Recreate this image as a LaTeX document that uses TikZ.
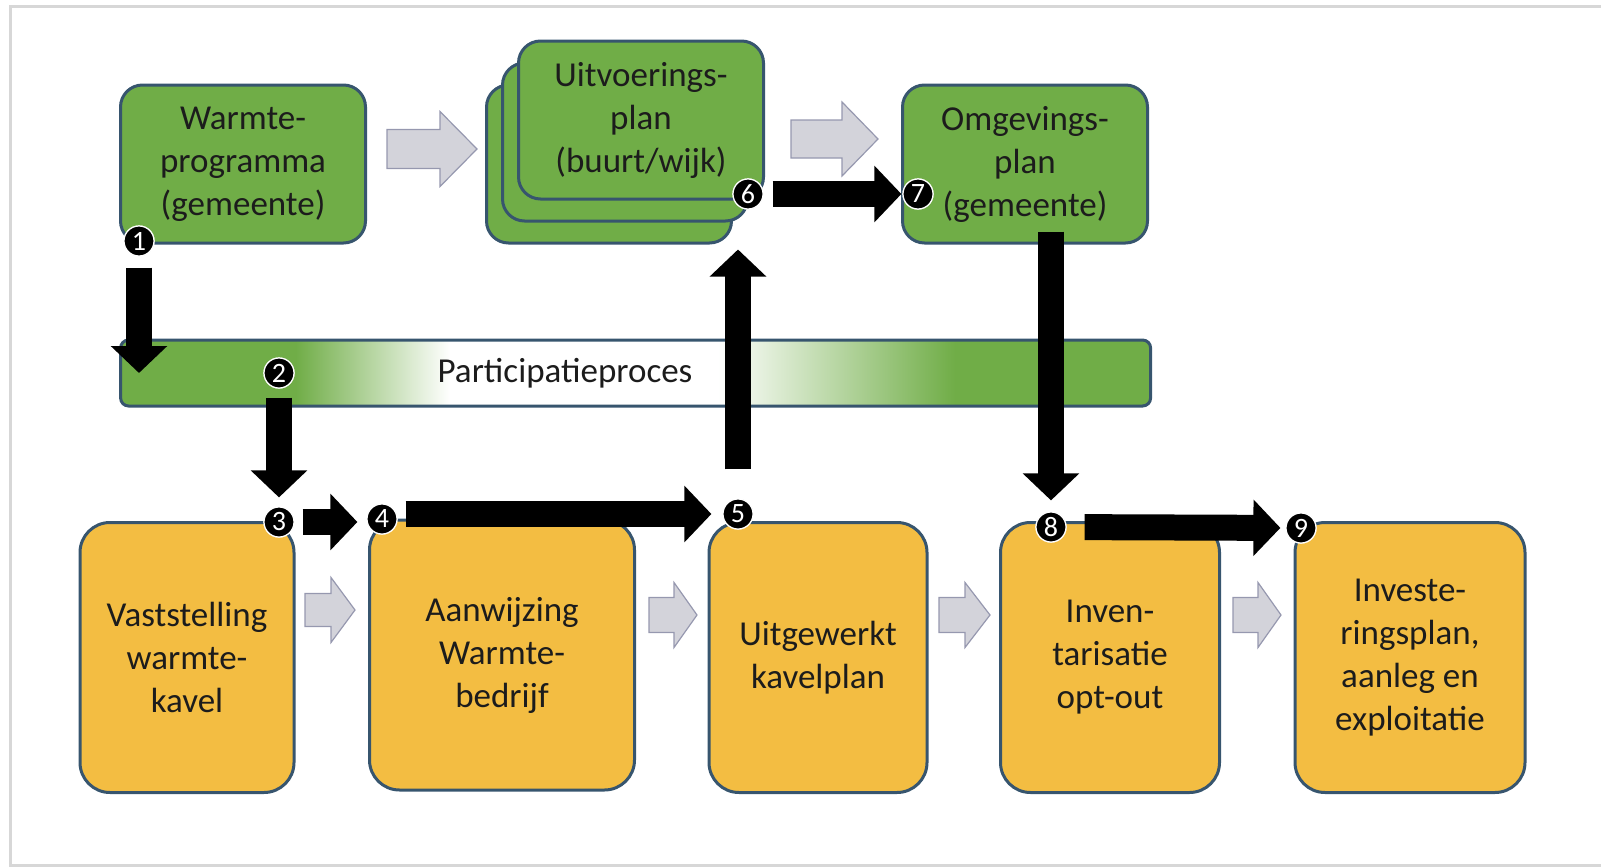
\documentclass[tikz,border=0pt]{standalone}
\usepackage{fontspec}
\setmainfont{Carlito}
\usetikzlibrary{arrows.meta,calc}
\definecolor{boxgreen}{RGB}{112,173,71}
\definecolor{boxyellow}{RGB}{243,189,66}
\definecolor{edgeblue}{RGB}{55,85,110}
\definecolor{arrgray}{RGB}{211,211,218}
\definecolor{arredge}{RGB}{150,152,175}
\definecolor{txt}{RGB}{28,28,28}
\definecolor{framegray}{RGB}{215,215,215}
\pgfdeclarehorizontalshading{barshade}{100bp}{color(0bp)=(boxgreen); color(33.5bp)=(boxgreen); color(41bp)=(white); color(54bp)=(white); color(65.5bp)=(boxgreen); color(100bp)=(boxgreen)}
\newcommand\grayarrow[6]{%
  \draw[garr] (#1,#4-#5) -- (#2,#4-#5) -- (#2,#4-#6) -- (#3,#4) -- (#2,#4+#6) -- (#2,#4+#5) -- (#1,#4+#5) -- cycle;}
\begin{document}
\begin{tikzpicture}[x=0.5pt,y=-0.5pt,
  boxfont/.style={font=\fontsize{17.5}{21.5}\selectfont},
  gbox/.style={draw=edgeblue, line width=1.5pt, fill=boxgreen, rounded corners=11pt,
    minimum width=122.5pt, minimum height=79pt, align=center, text=txt, boxfont, inner sep=0pt},
  ybox/.style={draw=edgeblue, line width=1.5pt, fill=boxyellow, rounded corners=15pt,
    minimum height=135pt, align=center, text=txt, boxfont, inner sep=0pt},
  num/.style={circle, fill=black, draw=white, line width=0.6pt, minimum size=15pt,
    inner sep=0pt, text=white, font=\fontsize{14}{14}\selectfont},
  blk/.style={draw=black, line width=13pt, -{Triangle[width=27.5pt,length=13.5pt]}},
  garr/.style={fill=arrgray, draw=arredge, line width=0.6pt, line join=miter}
]
\useasboundingbox (0,0) rectangle (1601,867);
% frame
\draw[framegray, line width=1.5pt] (1601,6) -- (10,6) -- (10,865) -- (1601,865);

% gray process arrows
\grayarrow{387}{440}{477}{149}{19.5}{37.5}
\grayarrow{791}{842}{878}{139}{19}{37}
\grayarrow{305}{331}{355}{610}{16.5}{32.5}
\grayarrow{649}{674}{697}{615}{17.5}{32.5}
\grayarrow{939}{965}{990}{615}{17.5}{32.5}
\grayarrow{1233}{1258}{1281}{615}{17.5}{32.5}

% participation bar
\node[draw=edgeblue, line width=1.5pt, shade, shading=barshade, rounded corners=4pt,
  minimum width=515pt, minimum height=33pt, inner sep=0pt] (bar) at (635.6,373) {};
\node[text=txt, boxfont, inner sep=0pt] (bartext) at (565,373) {Participatieproces};

% green boxes
\node[gbox] (W) at (243,164) {Warmte-\\programma\\(gemeente)};
\node[gbox] (U3) at (609,164) {};
\node[gbox] (U2) at (625,142) {};
\node[gbox] (U1) at (641,120) {Uitvoerings-\\plan\\(buurt/wijk)};
\node[gbox] (O) at (1025,164) {Omgevings-\\plan\\(gemeente)};

% yellow boxes
\node[ybox, minimum width=107pt] (B1) at (187,657.5) {Vaststelling\\warmte-\\kavel};
\node[ybox, minimum width=132.5pt] (B2) at (502,655) {Aanwijzing\\Warmte-\\bedrijf};
\node[ybox, minimum width=109pt] (B3) at (818,657.5) {Uitgewerkt\\kavelplan};
\node[ybox, minimum width=109.5pt] (B4) at (1110,657.5) {Inven-\\tarisatie\\opt-out};
\node[ybox, minimum width=115pt] (B5) at (1410,657.5) {Investe-\\ringsplan,\\aanleg en\\exploitatie};

% number circles (positions)
\node[num] (n1) at (139,241) {1};
\node[num] (n2) at (279,373) {2};
\node[num] (n3) at (279,522) {3};
\node[num] (n4) at (382,519) {4};
\node[num] (n5) at (738,514) {5};
\node[num] (n6) at (748,194) {6};
\node[num] (n7) at (918,194) {7};
\node[num] (n8) at (1051,527) {8};
\node[num] (n9) at (1301,528) {9};
\coordinate (t1) at (139,373);

% black arrows
\draw[blk, shorten <=5.5pt] (n1) -- (t1);
\draw[blk, shorten <=4.5pt, shorten >=4.5pt] (n2) -- (n3);
\draw[blk, shorten <=4pt, shorten >=4.5pt] (n3.east) -- (n3.east -| n4.west);
\draw[blk, shorten <=4pt, shorten >=5.5pt] (n5 -| n4.east) -- (n5.west);
\draw[blk, shorten <=14.5pt, shorten >=2.5pt] (n5.north) -- (n5 |- U3.south);
\draw[blk, shorten <=4.5pt, shorten >=0.5pt] (n6) -- (n7);
\draw[blk, shorten >=5.5pt] ([yshift=6.5pt]n8 |- O.south) -- (n8);
\draw[blk, shorten <=9pt, shorten >=2.5pt] (n8) -- (n9);

% redraw circles on top
\foreach \n/\t in {n1/1,n2/2,n3/3,n4/4,n5/5,n6/6,n7/7,n8/8,n9/9}
  \node[num] at (\n) {\t};
\end{tikzpicture}
\end{document}
